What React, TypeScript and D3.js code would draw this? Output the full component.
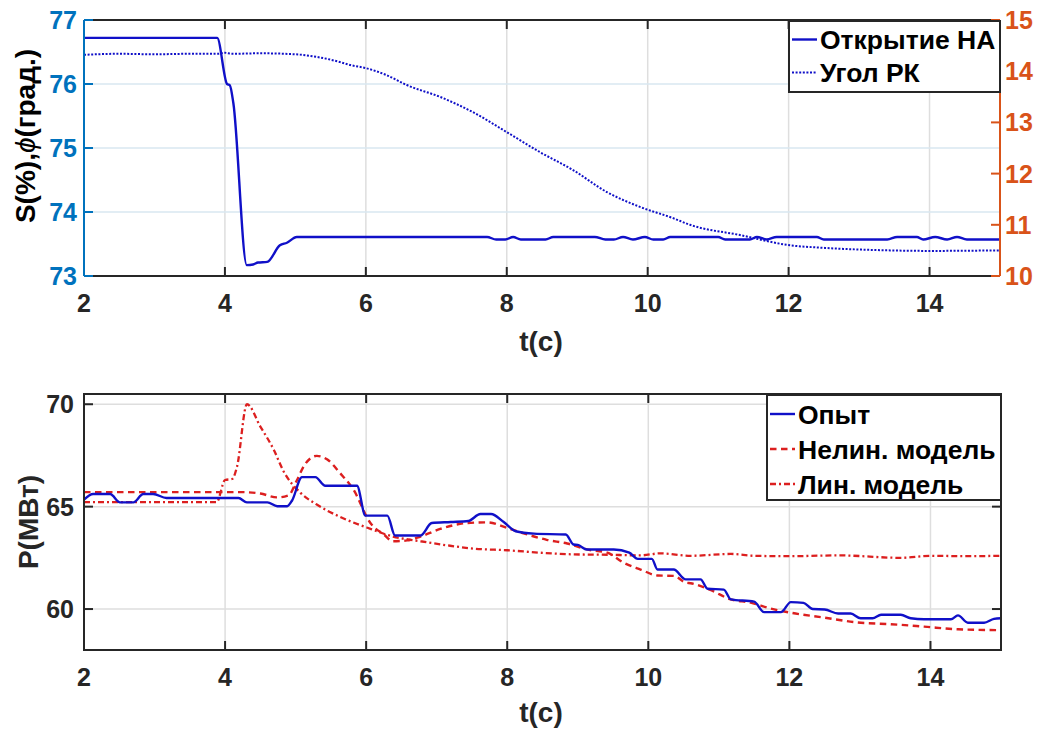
import React from 'react';
import * as d3 from 'd3';

// ---- tick labels ----
const xTicks = [2, 4, 6, 8, 10, 12, 14];
const sTicks = [73, 74, 75, 76, 77];
const phiTicks = [10, 11, 12, 13, 14, 15];
const pTicks = [60, 65, 70];

// ---- top plot: Открытие НА (left axis, %) ----
const openT = [2, 3.89, 4.03, 4.07, 4.12, 4.31, 4.4, 4.47, 4.6, 4.78, 4.88, 5.02, 7.72, 7.85, 7.98, 8.09, 8.2, 8.55, 8.66, 9.25, 9.4, 9.52, 9.65, 9.79, 9.96, 10.08, 10.22, 10.32, 11.0, 11.1, 11.45, 11.55, 11.69, 11.83, 12.4, 12.5, 13.4, 13.54, 13.82, 13.91, 14.08, 14.25, 14.39, 14.53, 15];
const openV = [76.72, 76.72, 76.0, 75.98, 75.7, 73.17, 73.18, 73.21, 73.22, 73.48, 73.52, 73.61, 73.61, 73.57, 73.57, 73.61, 73.57, 73.57, 73.61, 73.61, 73.57, 73.57, 73.61, 73.57, 73.61, 73.57, 73.57, 73.61, 73.61, 73.57, 73.57, 73.61, 73.57, 73.61, 73.61, 73.57, 73.57, 73.61, 73.61, 73.57, 73.61, 73.57, 73.61, 73.57, 73.57];

// ---- top plot: Угол РК (right axis, град.) ----
const angT = [2, 2.5, 3.0, 3.5, 3.9, 4.0, 4.1, 4.5, 5.0, 5.3, 5.63, 5.78, 6.0, 6.3, 6.58, 7.05, 7.52, 8.0, 8.47, 8.94, 9.42, 9.89, 10.36, 10.6, 11.31, 12.02, 12.5, 13.44, 14.0, 15];
const angV = [14.32, 14.34, 14.33, 14.34, 14.34, 14.36, 14.34, 14.35, 14.33, 14.28, 14.18, 14.12, 14.06, 13.92, 13.73, 13.5, 13.2, 12.81, 12.42, 12.07, 11.64, 11.35, 11.13, 11.0, 10.8, 10.6, 10.55, 10.5, 10.49, 10.5];

// ---- bottom plot: Опыт ----
const expT = [2, 2.13, 2.37, 2.51, 2.7, 2.84, 2.98, 3.17, 4.19, 4.31, 4.6, 4.74, 4.88, 4.95, 5.09, 5.28, 5.42, 5.87, 5.99, 6.3, 6.41, 6.77, 6.93, 7.2, 7.45, 7.62, 7.77, 7.95, 8.12, 8.38, 8.83, 8.94, 9.0, 9.13, 9.51, 9.73, 9.85, 10.05, 10.13, 10.36, 10.53, 10.74, 10.84, 11.07, 11.17, 11.5, 11.64, 11.88, 12.02, 12.2, 12.33, 12.5, 12.69, 12.87, 13.01, 13.18, 13.3, 13.58, 13.72, 13.91, 14.29, 14.39, 14.53, 14.76, 14.9, 15];
const expV = [65.34, 65.62, 65.62, 65.21, 65.21, 65.62, 65.62, 65.42, 65.42, 65.21, 65.21, 65.02, 65.02, 65.3, 66.44, 66.44, 66.02, 66.02, 64.56, 64.56, 63.59, 63.59, 64.2, 64.25, 64.3, 64.64, 64.64, 64.25, 63.8, 63.68, 63.64, 63.15, 63.13, 62.91, 62.91, 62.75, 62.45, 62.45, 61.93, 61.93, 61.45, 61.45, 60.99, 60.95, 60.47, 60.36, 59.85, 59.85, 60.34, 60.3, 60.0, 59.98, 59.78, 59.78, 59.55, 59.55, 59.72, 59.72, 59.55, 59.5, 59.5, 59.69, 59.33, 59.33, 59.52, 59.55];

// ---- bottom plot: Нелин. модель ----
const nlT = [2, 4.22, 4.5, 4.74, 4.9, 5.02, 5.12, 5.3, 5.45, 5.63, 5.82, 6.06, 6.25, 6.38, 6.58, 6.77, 7.05, 7.43, 7.72, 8.0, 8.23, 8.56, 8.85, 9.13, 9.42, 9.65, 9.89, 10.13, 10.36, 10.53, 10.6, 10.88, 11.17, 11.45, 11.74, 12.02, 12.5, 12.97, 13.44, 13.91, 14.39, 15];
const nlV = [65.71, 65.71, 65.64, 65.45, 65.55, 66.3, 67.0, 67.48, 67.3, 66.64, 65.83, 64.2, 63.64, 63.31, 63.35, 63.54, 63.91, 64.2, 64.23, 63.96, 63.7, 63.38, 63.2, 62.91, 62.75, 62.26, 61.93, 61.64, 61.62, 61.29, 61.26, 60.93, 60.47, 60.31, 60.02, 59.82, 59.58, 59.34, 59.26, 59.14, 59.01, 58.97];

// ---- bottom plot: Лин. модель ----
const linT = [2, 3.88, 4.0, 4.1, 4.17, 4.31, 4.5, 4.69, 4.83, 5.07, 5.3, 5.63, 6.01, 6.38, 6.77, 7.15, 7.52, 8.0, 8.47, 8.94, 9.42, 9.89, 10.17, 10.6, 11.17, 11.5, 12.0, 12.7, 13.58, 14.0, 14.5, 15];
const linV = [65.22, 65.22, 66.3, 66.35, 66.96, 70.0, 68.91, 67.78, 66.72, 65.67, 65.1, 64.5, 63.98, 63.54, 63.31, 63.11, 62.95, 62.87, 62.75, 62.67, 62.65, 62.62, 62.72, 62.6, 62.69, 62.6, 62.58, 62.62, 62.5, 62.6, 62.58, 62.6];

const FONT = "'Liberation Sans', Arial, Helvetica, sans-serif";
const AX = '#262626';
const BLUE_AX = '#0072BD';
const ORANGE_AX = '#D95319';
const LINE_BLUE = '#1010c8';
const LINE_RED = '#dc1f1f';
const GRID = '#dedede';
const GRID_BLUE = '#d9e7f0';

const zip = (t: number[], v: number[]) => t.map((x, i) => [x, v[i]] as [number, number]);

export default function App() {
  // top plot geometry
  const tL = 84, tR = 1000, tT = 20, tB = 276;
  const xTop = d3.scaleLinear().domain([2, 15]).range([tL, tR]);
  const yS = d3.scaleLinear().domain([73, 77]).range([tB, tT]);
  const yPhi = d3.scaleLinear().domain([10, 15]).range([tB, tT]);

  // bottom plot geometry
  const bL = 84, bR = 1001, bT = 394, bB = 650;
  const xBot = d3.scaleLinear().domain([2, 15]).range([bL, bR]);
  const yP = d3.scaleLinear().domain([58, 70.5]).range([bB, bT]);

  const mk = (xs: d3.ScaleLinear<number, number>, ys: d3.ScaleLinear<number, number>) =>
    d3.line<[number, number]>().x(d => xs(d[0])).y(d => ys(d[1])).curve(d3.curveMonotoneX);

  const openPath = mk(xTop, yS)(zip(openT, openV)) || '';
  const angPath = mk(xTop, yPhi)(zip(angT, angV)) || '';
  const expPath = mk(xBot, yP)(zip(expT, expV)) || '';
  const nlPath = mk(xBot, yP)(zip(nlT, nlV)) || '';
  const linPath = mk(xBot, yP)(zip(linT, linV)) || '';

  const TK = 9;
  const tickFs = 25;
  const labFs = 28;
  const legFs = 26.5;
  const DOT = '2,1.6';
  const DASH = '6.5,4.5';
  const DASHDOT = '6,3,2,3';

  return (
    <svg width={1044} height={729} style={{ position: 'absolute', left: 0, top: 0, background: '#fff' }}
      fontFamily={FONT} fontWeight="bold">
      <defs>
        <clipPath id="clipTop"><rect x={tL} y={tT} width={tR - tL} height={tB - tT} /></clipPath>
        <clipPath id="clipBot"><rect x={bL} y={bT} width={bR - bL} height={bB - bT} /></clipPath>
      </defs>
      <rect x={0} y={0} width={1044} height={729} fill="#fff" />

      {/* ===== TOP PLOT ===== */}
      {xTicks.filter(t => t > 2).map(t => (
        <line key={'tg' + t} x1={xTop(t)} x2={xTop(t)} y1={tT} y2={tB} stroke={GRID} strokeWidth={1.5} />
      ))}
      {sTicks.filter(t => t > 73 && t < 77).map(t => (
        <line key={'tgh' + t} x1={tL} x2={tR} y1={yS(t)} y2={yS(t)} stroke={GRID_BLUE} strokeWidth={1.5} />
      ))}
      <g clipPath="url(#clipTop)">
        <path d={angPath} fill="none" stroke={LINE_BLUE} strokeWidth={2} strokeDasharray={DOT} />
        <path d={openPath} fill="none" stroke={LINE_BLUE} strokeWidth={2.4} />
      </g>
      {/* frame */}
      <line x1={tL} x2={tR} y1={tT} y2={tT} stroke={AX} strokeWidth={2} />
      <line x1={tL} x2={tR} y1={tB} y2={tB} stroke={AX} strokeWidth={2} />
      {xTicks.map(t => (
        <g key={'tt' + t}>
          <line x1={xTop(t)} x2={xTop(t)} y1={tB} y2={tB - TK} stroke={AX} strokeWidth={2} />
          <line x1={xTop(t)} x2={xTop(t)} y1={tT} y2={tT + TK} stroke={AX} strokeWidth={2} />
          <text x={xTop(t)} y={312} textAnchor="middle" fontSize={tickFs} fill={AX}>{t}</text>
        </g>
      ))}
      <line x1={tL} x2={tL} y1={tT} y2={tB} stroke={BLUE_AX} strokeWidth={2} />
      {sTicks.map(t => (
        <g key={'ts' + t}>
          <line x1={tL} x2={tL + TK} y1={yS(t)} y2={yS(t)} stroke={BLUE_AX} strokeWidth={2} />
          <text x={77} y={yS(t) + 9} textAnchor="end" fontSize={tickFs} fill={BLUE_AX}>{t}</text>
        </g>
      ))}
      <line x1={tR} x2={tR} y1={tT} y2={tB} stroke={ORANGE_AX} strokeWidth={2} />
      {phiTicks.map(t => (
        <g key={'tp' + t}>
          <line x1={tR} x2={tR - TK} y1={yPhi(t)} y2={yPhi(t)} stroke={ORANGE_AX} strokeWidth={2} />
          <text x={1005} y={yPhi(t) + 9} textAnchor="start" fontSize={tickFs} fill={ORANGE_AX}>{t}</text>
        </g>
      ))}
      <text x={541} y={351} textAnchor="middle" fontSize={labFs} fill={AX}>t(c)</text>
      <text transform={`translate(35,136) rotate(-90)`} textAnchor="middle" fontSize={labFs} fill="#000">
        S(%),<tspan fontStyle="italic" fontWeight="normal">ϕ</tspan>(град.)
      </text>
      {/* legend top */}
      <rect x={789} y={21} width={211} height={71} fill="#fff" stroke={AX} strokeWidth={2} />
      <line x1={792} x2={817} y1={39.5} y2={39.5} stroke={LINE_BLUE} strokeWidth={2.4} />
      <text x={820} y={49} fontSize={legFs} fill="#000">Открытие НА</text>
      <line x1={792} x2={817} y1={72.5} y2={72.5} stroke={LINE_BLUE} strokeWidth={2} strokeDasharray={DOT} />
      <text x={820} y={81.5} fontSize={legFs} fill="#000">Угол РК</text>

      {/* ===== BOTTOM PLOT ===== */}
      {xTicks.filter(t => t > 2).map(t => (
        <line key={'bg' + t} x1={xBot(t)} x2={xBot(t)} y1={bT} y2={bB} stroke={GRID} strokeWidth={1.5} />
      ))}
      {pTicks.map(t => (
        <line key={'bgh' + t} x1={bL} x2={bR} y1={yP(t)} y2={yP(t)} stroke={GRID} strokeWidth={1.5} />
      ))}
      <g clipPath="url(#clipBot)">
        <path d={linPath} fill="none" stroke={LINE_RED} strokeWidth={2.3} strokeDasharray={DASHDOT} />
        <path d={nlPath} fill="none" stroke={LINE_RED} strokeWidth={2.4} strokeDasharray={DASH} />
        <path d={expPath} fill="none" stroke={LINE_BLUE} strokeWidth={2.4} />
      </g>
      <rect x={bL} y={bT} width={bR - bL} height={bB - bT} fill="none" stroke={AX} strokeWidth={2} />
      {xTicks.map(t => (
        <g key={'bt' + t}>
          <line x1={xBot(t)} x2={xBot(t)} y1={bB} y2={bB - TK} stroke={AX} strokeWidth={2} />
          <line x1={xBot(t)} x2={xBot(t)} y1={bT} y2={bT + TK} stroke={AX} strokeWidth={2} />
          <text x={xBot(t)} y={686} textAnchor="middle" fontSize={tickFs} fill={AX}>{t}</text>
        </g>
      ))}
      {pTicks.map(t => (
        <g key={'bp' + t}>
          <line x1={bL} x2={bL + TK} y1={yP(t)} y2={yP(t)} stroke={AX} strokeWidth={2} />
          <line x1={bR} x2={bR - TK} y1={yP(t)} y2={yP(t)} stroke={AX} strokeWidth={2} />
          <text x={74} y={yP(t) + 9} textAnchor="end" fontSize={tickFs} fill={AX}>{t}</text>
        </g>
      ))}
      <text x={541} y={722} textAnchor="middle" fontSize={labFs} fill={AX}>t(c)</text>
      <text transform={`translate(38,522) rotate(-90)`} textAnchor="middle" fontSize={labFs} fill={AX}>P(МВт)</text>
      {/* legend bottom */}
      <rect x={767} y={395} width={234} height={105} fill="#fff" stroke={AX} strokeWidth={2} />
      <line x1={770} x2={795} y1={414} y2={414} stroke={LINE_BLUE} strokeWidth={2.4} />
      <text x={798} y={423.5} fontSize={legFs} fill="#000">Опыт</text>
      <line x1={770} x2={795} y1={449} y2={449} stroke={LINE_RED} strokeWidth={2.4} strokeDasharray={DASH} />
      <text x={798} y={458.5} fontSize={legFs} fill="#000">Нелин. модель</text>
      <line x1={770} x2={795} y1={484} y2={484} stroke={LINE_RED} strokeWidth={2.3} strokeDasharray={DASHDOT} />
      <text x={798} y={493.5} fontSize={legFs} fill="#000">Лин. модель</text>
    </svg>
  );
}
